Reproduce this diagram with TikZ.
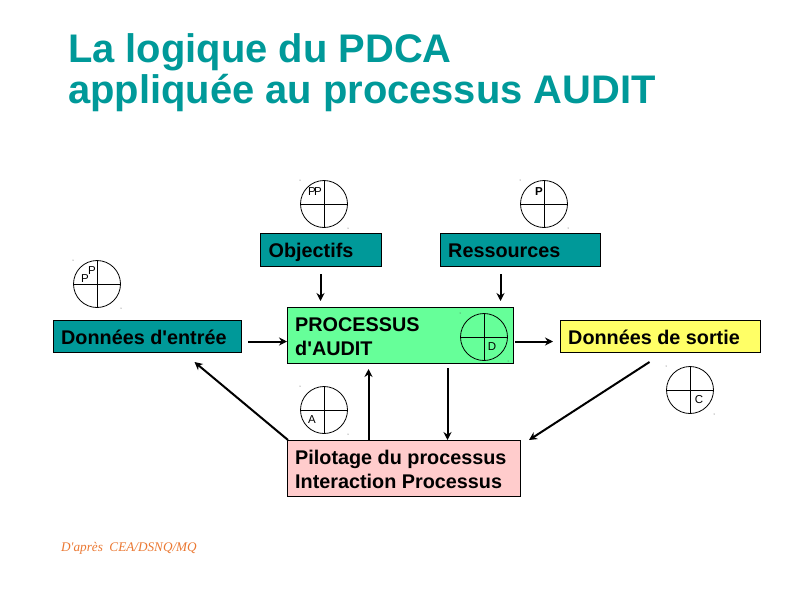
\documentclass[tikz,border=0pt]{standalone}
\usepackage{fontspec}
\setmainfont{Liberation Sans}[Ligatures=TeXOff]
\newfontfamily\serifit{Liberation Serif}[Ligatures=TeXOff]
\usetikzlibrary{arrows.meta,calc}
\definecolor{titleteal}{RGB}{0,153,153}
\definecolor{boxteal}{RGB}{0,153,153}
\definecolor{procgreen}{RGB}{102,255,153}
\definecolor{outyellow}{RGB}{255,255,102}
\definecolor{pilotpink}{RGB}{255,204,204}
\definecolor{noteorange}{RGB}{235,120,50}
\tikzset{
  x=1pt,y=-1pt,
  box/.style={draw=black,line width=1pt,anchor=north west,inner sep=0pt,minimum height=#1},
  lab/.style={font=\fontsize{19.8}{24}\selectfont\bfseries,text=black,anchor=base west,align=left,inner sep=0pt},
  flow/.style={draw=black,line width=2pt,-{Stealth[length=8pt,width=8pt]}},
  wheel/.style={draw=black,line width=0.8pt,circle,minimum size=47pt,inner sep=0pt},
  axis/.style={draw=black,line width=0.8pt},
  quad/.style={font=\fontsize{11.5}{12}\selectfont,text=black,inner sep=0pt},
  ttl/.style={anchor=base west,inner sep=0pt,text=titleteal,font=\fontsize{39.9}{41}\selectfont\bfseries},
}
\begin{document}
\begin{tikzpicture}
\useasboundingbox[fill=white] (0,0) rectangle (800,600);
% title
\node[ttl] (t1) at (68,62) {La logique du PDCA};
\node[ttl] (t2) at (68,103) {appliquée au processus AUDIT};
% boxes
\node[box=33pt,fill=boxteal,minimum width=121pt] (obj) at (260,233) {};
\node[lab] (objt) at (268.5,257) {Objectifs};
\node[box=33pt,fill=boxteal,minimum width=160pt] (res) at (440,233) {};
\node[lab] (rest) at (448,257) {Ressources};
\node[box=32pt,fill=boxteal,minimum width=188pt] (ent) at (53,320) {};
\node[lab] (entt) at (61,344) {Données d'entrée};
\node[box=56pt,fill=procgreen,minimum width=226pt] (proc) at (287,307) {};
\node[lab] (proct) at (295,355) {PROCESSUS\\d'AUDIT};
\node[box=32pt,fill=outyellow,minimum width=200pt] (sor) at (560,320) {};
\node[lab] (sort) at (568,344) {Données de sortie};
\node[box=56pt,fill=pilotpink,minimum width=233pt] (pil) at (287,440) {};
\node[lab] (pilt) at (295,488.5) {Pilotage du processus\\Interaction Processus};
% wheels
\foreach \n/\cx/\cy in {wa/324/204,wb/544/204,wc/97/284,wd/484/337,we/324/410,wf/690/390}{
  \node[wheel] (\n) at (\cx,\cy) {};
  \draw[axis] (\n.north) -- (\n.south);
  \draw[axis] (\n.west) -- (\n.east);
  \fill[black!70] ($(\n)+(-24,-24)$) circle (0.5pt) ($(\n)+(24,24)$) circle (0.5pt);
}
\node[quad] (qa1) at (312,192) {P};
\node[quad] (qa2) at (318,192) {P};
\node[quad,font=\fontsize{11.5}{12}\selectfont\bfseries] (qb) at (539,192) {P};
\node[quad] (qc1) at (85,279) {P};
\node[quad] (qc2) at (92,271) {P};
\node[quad] (qd) at (492,347) {D};
\node[quad] (qe) at (312,420) {A};
\node[quad] (qf) at (699,400) {C};
% connectors
\draw[flow] ($(obj.south)+(-0.5,7)$) -- ($(proc.north)+(-80,-6)$);
\draw[flow] ($(res.south)+(-20,7)$) -- ($(proc.north)+(100,-6)$);
\draw[flow] ($(ent.east)+(6,5)$) -- ($(proc.west)+(0,6)$);
\draw[flow] ($(proc.east)+(1,6)$) -- ($(sor.west)+(-7,5)$);
\draw[flow] ($(pil.north west)+(1,0)$) -- ($(ent.south)+(47,9)$);
\draw[flow] ($(pil.north)+(-35.5,0)$) -- ($(proc.south)+(-32,5)$);
\draw[flow] ($(proc.south)+(47,4)$) -- ($(pil.north)+(43.5,0)$);
\draw[flow] ($(sor.south)+(-11,9)$) -- ($(pil.north east)+(8,0)$);
% note
\node[anchor=base west,inner sep=0pt,text=noteorange,font=\serifit\itshape\fontsize{13.2}{14}\selectfont] (note) at (61,551) {D'après\ \ CEA/DSNQ/MQ};
\end{tikzpicture}
\end{document}
